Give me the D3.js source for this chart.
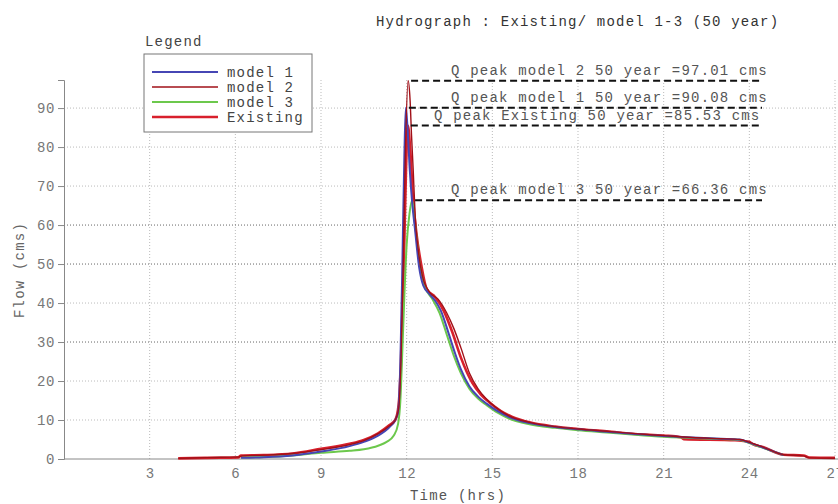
<!DOCTYPE html>
<html>
<head>
<meta charset="utf-8">
<script src="https://cdn.jsdelivr.net/npm/d3@7"></script>
<style>
  body { margin: 0; background: #fff; }
  svg { font-family: "Courier New", "Liberation Mono", monospace; }
  .lbl { font-size: 14px; letter-spacing: 1.2px; }
</style>
</head>
<body>
<svg id="chart" width="838" height="504"></svg>
<script>
// hydrograph series, [time (hrs), flow (cms)]
const model1 = [[6.2,0.3],[7,0.45],[8,0.9],[9,1.9],[10,3.3],[10.5,4.4],[11,6.0],[11.4,8.2],[11.6,10],[11.7,12],[11.78,25],[11.85,50],[11.92,78],[11.97,90.08],[12.03,85],[12.11,74],[12.19,66],[12.29,59],[12.44,49],[12.58,44.5],[12.8,42.3],[13.0,40.6],[13.2,38],[13.5,31.5],[13.7,27],[13.9,23],[14.2,18.6],[14.5,16],[14.8,14.2],[15.2,12.2],[15.6,10.7],[16.3,9.2],[17.2,8.2],[18,7.6],[19,7.0],[20,6.4],[21,5.9],[22,5.5],[23,5.2],[23.66,5.0],[24,4.2],[24.5,2.9],[25.2,1.0]];
const model2 = [[4.0,0.15],[5,0.35],[5.5,0.45],[6.1,0.5],[6.25,0.8],[7,1.0],[8,1.4],[9,2.4],[10,3.7],[10.5,4.7],[11,6.5],[11.4,8.5],[11.6,10],[11.72,13],[11.8,25],[11.88,50],[11.96,80],[12.05,97.01],[12.12,92],[12.17,83],[12.23,74],[12.3,62],[12.4,54],[12.55,47],[12.8,42.8],[13.1,41],[13.4,37.5],[13.65,33.5],[13.9,28.5],[14.2,22],[14.5,18],[14.8,15.3],[15.2,12.8],[15.6,11],[16.3,9.4],[17.2,8.3],[18,7.7],[19,7.1],[20,6.5],[21,6.0],[22,5.5],[23,5.2],[23.66,5.0],[24,4.3],[24.5,3.0],[25.2,1.1],[25.9,0.8],[26.1,0.3],[27,0.2]];
const model3 = [[6.2,0.4],[7,0.5],[8,0.9],[9,1.6],[10,2.1],[10.5,2.5],[11,3.4],[11.3,4.4],[11.55,6],[11.7,9],[11.78,15],[11.85,28],[11.92,42],[12.0,55],[12.1,63],[12.19,66.36],[12.3,60],[12.46,50],[12.65,44],[12.9,41],[13.15,37.5],[13.4,32],[13.65,26.5],[13.9,22],[14.2,18],[14.5,15.5],[14.8,13.8],[15.2,11.8],[15.6,10.3],[16.3,8.9],[17.2,8.0],[18,7.4],[19,6.8],[20,6.2],[21,5.7],[22,5.4],[23,5.1],[23.66,4.9],[24,4.1],[24.5,2.8],[25.2,1.0]];
const existing = [[4.0,0.15],[5,0.3],[6.1,0.4],[6.2,0.9],[7,1.0],[8,1.4],[9,2.6],[10,3.9],[10.5,4.9],[11,6.6],[11.4,8.7],[11.6,10],[11.72,14],[11.8,25],[11.9,50],[11.98,75],[12.04,85.53],[12.12,80],[12.22,67],[12.34,58],[12.52,49.4],[12.7,43.6],[13.0,41.5],[13.3,38],[13.6,32.5],[13.9,26],[14.3,19.5],[14.6,16.5],[14.9,14.5],[15.3,12.3],[15.7,10.8],[16.3,9.4],[17.2,8.3],[18,7.7],[19,7.1],[20,6.4],[21,6.0],[21.6,5.6],[21.7,5.1],[23.5,4.8],[23.8,4.6],[24.0,4.4],[24.1,3.9],[24.5,3.0],[25.2,1.1],[25.9,0.9],[26.1,0.4],[27,0.3]];

const legendNames = ['model 1', 'model 2', 'model 3', 'Existing'];
// peak annotations, top to bottom
const peakNames = ['model 2', 'model 1', 'Existing', 'model 3'];
const peakTimes = [12.05, 11.97, 12.04, 12.19];
const peakFlows = [97.01, 90.08, 85.53, 66.36];

const xTicks = [3, 6, 9, 12, 15, 18, 21, 24, 27];
const yTicks = [0, 10, 20, 30, 40, 50, 60, 70, 80, 90];
const darkGrid = [30, 50, 60];

const styles = {
  'model 1': { color: '#4646b4', width: 2 },
  'model 2': { color: '#a01018', width: 1.4 },
  'model 3': { color: '#6cc84c', width: 2 },
  'Existing': { color: '#d8202c', width: 2.6 }
};

const svg = d3.select('#chart');
const x = d3.scaleLinear().domain([0, 27]).range([64, 835]);
const y = d3.scaleLinear().domain([0, 97.2]).range([459, 80]);

// grid
const grid = svg.append('g').attr('class', 'grid');
grid.selectAll('line.v')
  .data(xTicks)
  .enter()
  .append('line')
  .attr('class', 'v')
  .attr('x1', d => x(d)).attr('x2', d => x(d))
  .attr('y1', y.range()[1]).attr('y2', y(0))
  .attr('stroke', '#bbb')
  .attr('stroke-dasharray', '1,2');
grid.selectAll('line.h')
  .data(yTicks.filter(d => d > 0))
  .enter()
  .append('line')
  .attr('class', 'h')
  .attr('x1', x(0)).attr('x2', 838)
  .attr('y1', d => y(d)).attr('y2', d => y(d))
  .attr('stroke', d => darkGrid.includes(d) ? '#666' : '#bbb')
  .attr('stroke-dasharray', '1,2');

// axes
const yAxis = svg.append('g')
  .attr('transform', `translate(${x(0)},0)`)
  .call(d3.axisLeft(y).tickValues(yTicks).tickSize(6).tickPadding(3));
const xAxis = svg.append('g')
  .attr('transform', `translate(0,${y(0)})`)
  .call(d3.axisBottom(x).tickValues(xTicks).tickSize(0).tickPadding(9));
[yAxis, xAxis].forEach(a => {
  a.select('.domain').attr('stroke', '#888');
  a.selectAll('.tick line').attr('stroke', '#888');
  a.selectAll('.tick text')
    .attr('fill', '#777')
    .style('font-family', '"Courier New", "Liberation Mono", monospace')
    .style('font-size', '14px')
    .style('letter-spacing', '0.6px');
});
xAxis.select('.domain').attr('d', `M${x(0)},0H838`);

svg.append('text')
  .attr('class', 'lbl')
  .attr('transform', `translate(24,270) rotate(-90)`)
  .attr('text-anchor', 'middle')
  .attr('fill', '#666')
  .text('Flow (cms)');
svg.append('text')
  .attr('class', 'lbl')
  .attr('x', 410).attr('y', 500)
  .attr('fill', '#555')
  .text('Time (hrs)');
svg.append('text')
  .attr('class', 'lbl')
  .attr('x', 376).attr('y', 26)
  .attr('fill', '#333')
  .text('Hydrograph : Existing/ model 1-3 (50 year)');

// series
const line = d3.line()
  .x(d => x(d[0]))
  .y(d => y(d[1]))
  .curve(d3.curveMonotoneX);
const series = [
  { name: 'Existing', values: existing },
  { name: 'model 3', values: model3 },
  { name: 'model 1', values: model1 },
  { name: 'model 2', values: model2 }
];
svg.append('g').selectAll('path')
  .data(series)
  .enter()
  .append('path')
  .attr('d', d => line(d.values))
  .attr('fill', 'none')
  .attr('stroke', d => styles[d.name].color)
  .attr('stroke-width', d => styles[d.name].width)
  .attr('stroke-linejoin', 'round');

// peak annotations
const peaks = peakNames.map((n, i) => ({ name: n, t: peakTimes[i], q: peakFlows[i] }));
const ann = svg.append('g').selectAll('g').data(peaks).enter().append('g');
ann.append('line')
  .attr('x1', d => x(d.t) + 3).attr('x2', 762)
  .attr('y1', d => y(d.q)).attr('y2', d => y(d.q))
  .attr('stroke', '#111')
  .attr('stroke-width', 2)
  .attr('stroke-dasharray', '7,4');
ann.append('text')
  .attr('class', 'lbl')
  .attr('x', d => d.name === 'Existing' ? 434 : 451)
  .attr('y', d => y(d.q) - 6)
  .attr('fill', '#555')
  .text(d => `Q peak ${d.name} 50 year =${d.q.toFixed(2)} cms`);

// legend
svg.append('text')
  .attr('class', 'lbl')
  .attr('x', 145).attr('y', 46)
  .attr('fill', '#444')
  .text('Legend');
const legend = svg.append('g');
legend.append('rect')
  .attr('x', 144).attr('y', 54)
  .attr('width', 168).attr('height', 78)
  .attr('fill', '#fff')
  .attr('stroke', '#777');
const li = legend.selectAll('g.item')
  .data(legendNames)
  .enter()
  .append('g')
  .attr('class', 'item')
  .attr('transform', (d, i) => `translate(0,${72 + i * 15})`);
li.append('line')
  .attr('x1', 152).attr('x2', 218)
  .attr('stroke', d => styles[d].color)
  .attr('stroke-width', d => styles[d].width);
li.append('text')
  .attr('class', 'lbl')
  .attr('x', 227).attr('y', 5)
  .attr('fill', '#444')
  .text(d => d);
</script>
</body>
</html>
